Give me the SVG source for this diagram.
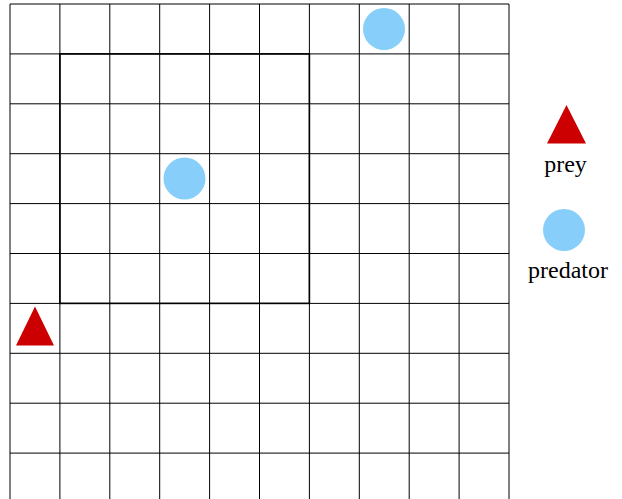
<svg xmlns="http://www.w3.org/2000/svg" width="622" height="499" viewBox="0 0 622 499">
<style>
.g line{stroke:#000;stroke-width:1}
.prey{fill:#cc0000}
.pred{fill:#87cefa}
.lbl{font-family:"Liberation Serif",serif;font-size:24px;fill:#000;text-anchor:middle}
</style>
<rect width="622" height="499" fill="#fff"/>
<g id="grid" class="g">
<line x1="10" y1="4" x2="10" y2="499"/>
<line x1="59.9" y1="4" x2="59.9" y2="499"/>
<line x1="109.8" y1="4" x2="109.8" y2="499"/>
<line x1="159.7" y1="4" x2="159.7" y2="499"/>
<line x1="209.6" y1="4" x2="209.6" y2="499"/>
<line x1="259.5" y1="4" x2="259.5" y2="499"/>
<line x1="309.4" y1="4" x2="309.4" y2="499"/>
<line x1="359.3" y1="4" x2="359.3" y2="499"/>
<line x1="409.2" y1="4" x2="409.2" y2="499"/>
<line x1="459.1" y1="4" x2="459.1" y2="499"/>
<line x1="509" y1="4" x2="509" y2="499"/>
<line x1="10" y1="4" x2="509" y2="4"/>
<line x1="10" y1="53.9" x2="509" y2="53.9"/>
<line x1="10" y1="103.8" x2="509" y2="103.8"/>
<line x1="10" y1="153.7" x2="509" y2="153.7"/>
<line x1="10" y1="203.6" x2="509" y2="203.6"/>
<line x1="10" y1="253.5" x2="509" y2="253.5"/>
<line x1="10" y1="303.4" x2="509" y2="303.4"/>
<line x1="10" y1="353.3" x2="509" y2="353.3"/>
<line x1="10" y1="403.2" x2="509" y2="403.2"/>
<line x1="10" y1="453.1" x2="509" y2="453.1"/>
</g>
<rect id="region" x="59.9" y="53.9" width="249.5" height="249.5" fill="none" stroke="#000" stroke-width="1.6"/>
<g id="predator1"><circle class="pred" cx="384" cy="29" r="21"/></g>
<g id="predator2"><circle class="pred" cx="184.5" cy="178.5" r="21"/></g>
<g id="prey1"><polygon class="prey" points="35,306.5 54,345.5 16,345.5"/></g>
<g id="legend-prey">
<polygon class="prey" points="566.5,105 586,143.5 547,143.5"/>
<text class="lbl" x="565.5" y="172">prey</text>
</g>
<g id="legend-predator">
<circle class="pred" cx="564" cy="230" r="21"/>
<text class="lbl" x="568" y="278">predator</text>
</g>
</svg>
